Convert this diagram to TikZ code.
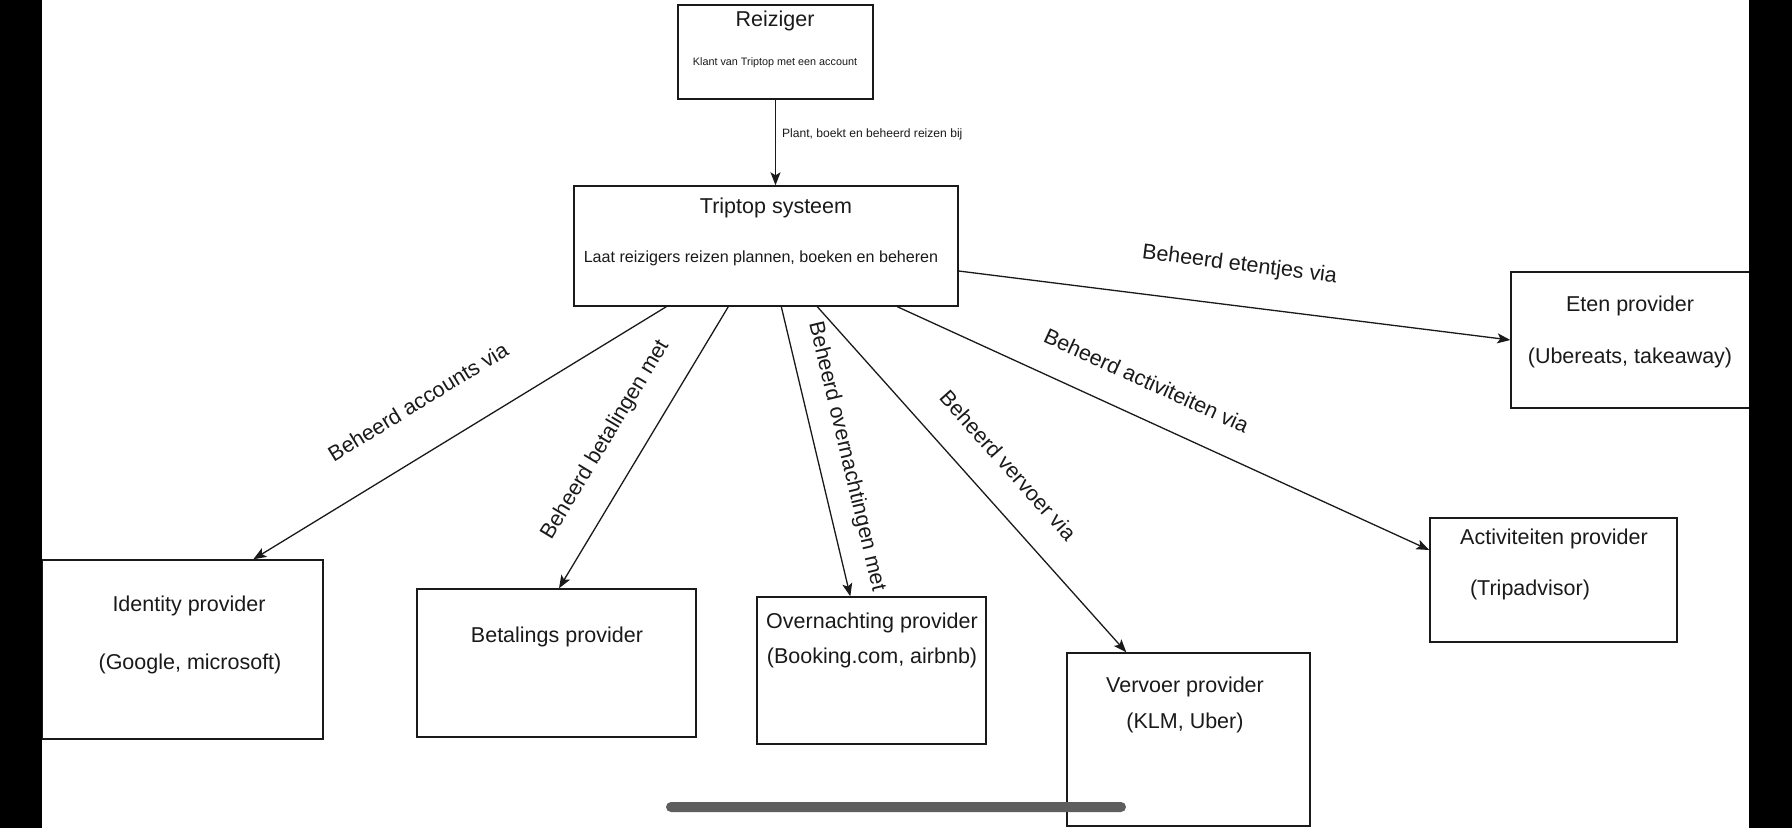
\documentclass[tikz,border=0pt]{standalone}
\usepackage{fontspec}
\setmainfont{Liberation Sans}
\usetikzlibrary{arrows.meta, positioning}
\definecolor{cink}{HTML}{1A1A1A}
\definecolor{cbar}{HTML}{5E5E5E}
\tikzset{
  every picture/.style={x=1pt, y=-1pt, line width=1.3pt},
  box/.style={draw=cink, rectangle, inner sep=0pt, line width=1.4pt},
  head/.style={font=\fontsize{21.5}{26}\selectfont, text=cink, inner sep=2pt},
  subline/.style={font=\fontsize{16.1}{19}\selectfont, text=cink, inner sep=2pt},
  tinyline/.style={font=\fontsize{10.8}{13}\selectfont, text=cink, inner sep=2pt},
  edgenote/.style={font=\fontsize{12.1}{14}\selectfont, text=cink, inner sep=2pt},
  edgelbl/.style={font=\fontsize{21.5}{26}\selectfont, text=cink, inner sep=2pt, sloped},
  arrow/.style={-{Stealth[length=13pt, width=10pt, inset=3pt]}, draw=cink, line width=1.3pt},
}

\begin{document}
\begin{tikzpicture}
  \useasboundingbox (0,0) rectangle (1792,828);
  \fill[white] (0,0) rectangle (1792,828);

  % boxes
  \node[box, minimum width=195pt, minimum height=94pt] (reiz) at (775.5,52) {};
  \node[box, minimum width=384pt, minimum height=120pt] (trip) at (766,246) {};
  \node[box, minimum width=239pt, minimum height=136pt] (eten) at (1630.5,340) {};
  \node[box, minimum width=281pt, minimum height=179pt] (idp) at (182.5,649.5) {};
  \node[box, minimum width=279pt, minimum height=148pt] (bet) at (556.5,663) {};
  \node[box, minimum width=229pt, minimum height=147pt] (ovn) at (871.5,670.5) {};
  \node[box, minimum width=243pt, minimum height=173pt] (vrv) at (1188.5,739.5) {};
  \node[box, minimum width=247pt, minimum height=124pt] (act) at (1553.5,580) {};

  % texts in the boxes
  \node[head] (reizT) at (775,21) {Reiziger};
  \node[tinyline] (reizS) at (775,63) {Klant van Triptop met een account};
  \node[head] (tripT) at (776,208) {Triptop systeem};
  \node[subline] (tripS) at (761,258) {Laat reizigers reizen plannen, boeken en beheren};
  \node[head] (etenT) at (1630,306) {Eten provider};
  \node[head] (etenS) at (1630,358) {(Ubereats, takeaway)};
  \node[head] (idpT) at (189,606) {Identity provider};
  \node[head] (idpS) at (190,664) {(Google, microsoft)};
  \node[head] (betT) at (557,637) {Betalings provider};
  \node[head] (ovnT) at (872,623) {Overnachting provider};
  \node[head] (ovnS) at (872,658) {(Booking.com, airbnb)};
  \node[head] (vrvT) at (1185,687) {Vervoer provider};
  \node[head] (vrvS) at (1185,723) {(KLM, Uber)};
  \node[head] (actT) at (1554,539) {Activiteiten provider};
  \node[head] (actS) at (1530,590) {(Tripadvisor)};

  % connectors
  \draw[arrow] (reiz.south) -- node[edgenote, right=4pt, pos=0.41] (plantL) {Plant, boekt en beheerd reizen bij} (reiz.south |- trip.north);
  \draw[arrow] ([yshift=-25pt]trip.east) -- node[edgelbl, above=28pt] (etenL) {Beheerd etentjes via} (eten.west);
  \draw[arrow] ([xshift=93pt]trip.south west) -- node[edgelbl, above=38pt, pos=0.54] (idpL) {Beheerd accounts via} ([xshift=212pt]idp.north west);
  \draw[arrow] ([xshift=155pt]trip.south west) -- node[edgelbl, above=24pt, pos=0.54] (betL) {Beheerd betalingen met} ([xshift=2.5pt]bet.north);
  \draw[arrow] ([xshift=208pt]trip.south west) -- node[edgelbl, above=16pt, pos=0.54] (ovnL) {Beheerd overnachtingen met} ([xshift=94pt]ovn.north west);
  \draw[arrow] ([xshift=244pt]trip.south west) -- node[edgelbl, above=26pt, pos=0.53] (vrvL) {Beheerd vervoer via} ([xshift=60pt]vrv.north west);
  \draw[arrow] ([xshift=324pt]trip.south west) -- node[edgelbl, above=26pt, pos=0.44] (actL) {Beheerd activiteiten via} ([yshift=30pt]act.west);

  % screen edges and scroll bar
  \fill[black] (0,0) rectangle (42,828);
  \fill[black] (1749,0) rectangle (1792,828);
  \fill[cbar, rounded corners=5pt] (666,802) rectangle (1126,812);
\end{tikzpicture}
\end{document}
